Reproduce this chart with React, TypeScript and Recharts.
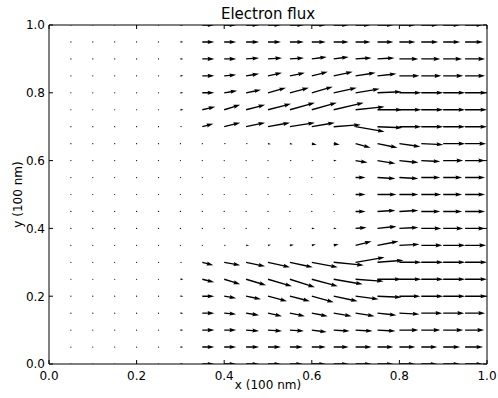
import React from 'react';
import { ScatterChart, Scatter, XAxis, YAxis } from 'recharts';

// Grid positions (data units, 100 nm)
const dotCols = [0.05, 0.1, 0.15, 0.2, 0.25];
const xCols = [0.3, 0.35, 0.4, 0.45, 0.5, 0.55, 0.6, 0.65, 0.7, 0.75, 0.8, 0.85, 0.9, 0.95];
const yRows = [1.0, 0.95, 0.9, 0.85, 0.8, 0.75, 0.7, 0.65, 0.6, 0.55, 0.5, 0.45, 0.4, 0.35, 0.3, 0.25, 0.2, 0.15, 0.1, 0.05, 0.0];

// Flux components (quiver screen units), one row per yRows entry, one column per xCols entry
const uRows: number[][] = [
  [3, 12, 12, 13, 13, 14, 14, 15, 15, 16, 16, 17, 17, 18],
  [3, 12, 12, 13, 13, 14, 14, 15, 15, 16, 16, 17, 17, 18],
  [3, 12, 12, 13, 14, 14, 15, 15, 16, 17, 19, 19, 19, 20],
  [3, 12, 12, 13, 14, 15, 16, 19, 20, 19, 20, 20, 20, 20],
  [3, 12, 13, 15, 18, 19, 21, 23, 24, 24, 22, 22, 22, 22],
  [3, 13, 16, 19, 23, 25, 25, 30, 29, 25, 22, 22, 22, 22],
  [2, 11, 16, 19, 22, 25, 23, 27, 29, 25, 22, 22, 22, 22],
  [0.5, 0.5, 2, 2, 3, 3, 5, 6, 15, 20, 21, 22, 22, 21],
  [0.5, 0.5, 1, 1, 1, 2, 2, 3, 12, 18, 19, 19, 20, 20],
  [0.5, 0.5, 0.5, 0.5, 0.5, 0.5, 1, 1.5, 10, 18, 19, 19, 19, 20],
  [0.5, 0.5, 0.5, 0.5, 0.5, 0.5, 0.5, 1, 10, 19, 19, 20, 19, 20],
  [0.5, 0.5, 0.5, 0.5, 0.5, 0.5, 1, 1.5, 10, 18, 19, 19, 19, 20],
  [0.5, 0.5, 0.5, 1, 2, 2, 3, 3, 11, 19, 19, 20, 20, 20],
  [0.5, 0.5, 2, 3, 3, 4, 4, 5, 16, 21, 20, 21, 22, 21],
  [2, 11, 16, 19, 22, 23, 26, 30, 29, 26, 22, 22, 22, 22],
  [3, 12, 16, 20, 24, 25, 26, 29, 28, 24, 22, 22, 22, 22],
  [3, 12, 12, 15, 19, 20, 22, 24, 23, 24, 21, 22, 22, 22],
  [3, 12, 12, 13, 14, 15, 16, 18, 19, 19, 20, 21, 21, 20],
  [3, 12, 12, 13, 14, 14, 15, 16, 17, 18, 19, 19, 20, 19],
  [3, 12, 12, 13, 13, 13, 14, 15, 16, 16, 16, 16, 17, 18],
  [3, 12, 12, 13, 13, 13, 14, 15, 16, 16, 16, 16, 17, 18],
];

const vRows: number[][] = [
  [0, 0, 0, 0, 0, 0, 0, 0, 0, 0, 0, 0, 0, 0],
  [0, 0, 0, 0, 0, 0, 0, 0, 0, 0, 0, 0, 0, 0],
  [0, 0, 0, 1, 1, 1, 2, 2, 1, 1, 0, 0, 0, 0],
  [0, 0, 1, 2, 3, 3, 4, 4, 3, 2, 0, 0, 0, 0],
  [0, 0, 2, 3, 5, 5, 6, 5, 4, 1, 0, 0, 0, 0],
  [0, 3, 5, 5, 6, 7, 7, 7, 3, 0, 0, 0, 0, 0],
  [0, 3, 4, 4, 4, 4, 4, 2, -5, -1, 0, 0, 0, 0],
  [0, 0, 0, 0, -0.5, -0.5, -1, -1, -4, -4, -3, -1, 0, 0],
  [0, 0, 0, 0, 0, 0, 0, 0, -2, -3, -2, -1, 0, 0],
  [0, 0, 0, 0, 0, 0, 0, 0, 0, -1, -1, 0, 0, 0],
  [0, 0, 0, 0, 0, 0, 0, 0, 0, 0, 0, 0, 0, 0],
  [0, 0, 0, 0, 0, 0, 0, 0, 0, 1, 1, 0, 0, 0],
  [0, 0, 0, 0, 0, 0, 0, 0, 1, 2, 1, 0, 0, 0],
  [0, 0, 0, 0, 0.5, 0.5, 1, 1, 4, 4, 1, 0, 0, 0],
  [0, -3, -3, -4, -5, -5, -5, -3, 5, 2, 0, 0, 0, 0],
  [0, -3, -5, -6, -7, -8, -7, -5, -2, 0, 0, 0, 0, 0],
  [0, 0, -2, -3, -5, -5, -6, -5, -3, -1, 0, 0, 0, 0],
  [0, 0, -1, -2, -3, -3, -3, -3, -3, -2, -1, 0, 0, 0],
  [0, 0, 0, -1, -1, -1, -2, -1, -1, -1, 0, 0, 0, 0],
  [0, 0, 0, 0, 0, 0, 0, 0, 0, 0, 0, 0, 0, 0],
  [0, 0, 0, 0, 0, 0, 0, 0, 0, 0, 0, 0, 0, 0],
];

const xTicks = [0, 0.2, 0.4, 0.6, 0.8, 1.0];
const yTicks = [0, 0.2, 0.4, 0.6, 0.8, 1.0];
const chartTitle = 'Electron flux';
const xLabel = 'x (100 nm)';
const yLabel = 'y (100 nm)';

type Pt = { x: number; y: number; u: number; v: number };
const data: Pt[] = [];
yRows.forEach((y, i) => {
  dotCols.forEach((x) => data.push({ x, y, u: 0, v: 0 }));
  xCols.forEach((x, j) => data.push({ x, y, u: uRows[i][j], v: vRows[i][j] }));
});
// anchor points so the top/right frame axes are active
const frameData = [{ x: 0, y: 0 }, { x: 1, y: 1 }];

const FONT = 'DejaVu Sans';
const W = 1.35; // shaft width
const HL = 5 * W;
const HW = 3 * W;
const HAL = 4.5 * W;

const Arrow = (props: any) => {
  const { cx, cy, payload } = props;
  if (cx == null || cy == null) return <g />;
  const u = payload.u;
  const v = payload.v;
  const L = Math.hypot(u, v);
  if (L < W) {
    return <circle cx={cx} cy={cy} r={0.6} fill="#000" />;
  }
  const s = L < HL ? L / HL : 1;
  const Ls = L / s;
  const pts = [
    [0, -W / 2],
    [Ls - HAL, -W / 2],
    [Ls - HL, -HW / 2],
    [Ls, 0],
    [Ls - HL, HW / 2],
    [Ls - HAL, W / 2],
    [0, W / 2],
  ]
    .map(([a, b]) => `${(a * s).toFixed(2)},${(b * s).toFixed(2)}`)
    .join(' ');
  const ang = (Math.atan2(-v, u) * 180) / Math.PI;
  return <polygon points={pts} transform={`translate(${cx},${cy}) rotate(${ang})`} fill="#000" />;
};

const Nothing = () => <g />;

const fmt = (v: number) => v.toFixed(1);

const BottomTick = (p: any) => (
  <g>
    <line x1={p.x} x2={p.x} y1={p.y} y2={p.y - 4} stroke="#000" />
    <text x={p.x} y={p.y + 16} textAnchor="middle" fontSize={12} fontFamily={FONT} fill="#000">
      {fmt(p.payload.value)}
    </text>
  </g>
);
const TopTick = (p: any) => (
  <line x1={p.x} x2={p.x} y1={p.y} y2={p.y + 4} stroke="#000" />
);
const LeftTick = (p: any) => (
  <g>
    <line x1={p.x} x2={p.x + 4} y1={p.y} y2={p.y} stroke="#000" />
    <text x={p.x - 4} y={p.y} dy="0.36em" textAnchor="end" fontSize={12} fontFamily={FONT} fill="#000">
      {fmt(p.payload.value)}
    </text>
  </g>
);
const RightTick = (p: any) => (
  <line x1={p.x} x2={p.x - 4} y1={p.y} y2={p.y} stroke="#000" />
);

const XLabel = (p: any) => {
  const vb = p.viewBox;
  return (
    <text x={vb.x + vb.width / 2} y={vb.y + vb.height - 9} textAnchor="middle" fontSize={12} fontFamily={FONT} fill="#000">
      {xLabel}
    </text>
  );
};
const YLabel = (p: any) => {
  const vb = p.viewBox;
  const cx = vb.x + 18;
  const cy = vb.y + vb.height / 2;
  return (
    <text x={cx} y={cy} dy="0.36em" transform={`rotate(-90, ${cx}, ${cy})`} textAnchor="middle" fontSize={12} fontFamily={FONT} fill="#000">
      {yLabel}
    </text>
  );
};
const TitleLabel = (p: any) => {
  const vb = p.viewBox;
  return (
    <text x={vb.x + vb.width / 2} y={vb.y - 5} textAnchor="middle" fontSize={15} fontFamily={FONT} fill="#000">
      {chartTitle}
    </text>
  );
};

export default function App() {
  return (
    <div style={{ position: 'absolute', left: 0, top: 0, width: 498, height: 398, background: '#fff' }}>
      <ScatterChart width={498} height={398} margin={{ top: 24, right: 10, bottom: 0, left: 0 }}>
        <XAxis
          dataKey="x"
          type="number"
          domain={[0, 1]}
          ticks={xTicks}
          allowDataOverflow
          height={34}
          tickSize={0}
          tickMargin={0}
          tick={BottomTick}
          axisLine={{ stroke: '#000' }}
          label={<XLabel />}
        />
        <XAxis
          xAxisId="top"
          dataKey="x"
          orientation="top"
          type="number"
          domain={[0, 1]}
          ticks={xTicks}
          height={1}
          tickSize={0}
          tickMargin={0}
          tick={TopTick}
          axisLine={{ stroke: '#000' }}
          label={<TitleLabel />}
        />
        <YAxis
          dataKey="y"
          type="number"
          domain={[0, 1]}
          ticks={yTicks}
          allowDataOverflow
          width={49}
          tickSize={0}
          tickMargin={0}
          tick={LeftTick}
          axisLine={{ stroke: '#000' }}
          label={<YLabel />}
        />
        <YAxis
          yAxisId="right"
          dataKey="y"
          orientation="right"
          type="number"
          domain={[0, 1]}
          ticks={yTicks}
          width={1}
          tickSize={0}
          tickMargin={0}
          tick={RightTick}
          axisLine={{ stroke: '#000' }}
        />
        <Scatter data={frameData} xAxisId="top" yAxisId="right" shape={Nothing} isAnimationActive={false} />
        <Scatter data={data} shape={Arrow} isAnimationActive={false} />
      </ScatterChart>
    </div>
  );
}
